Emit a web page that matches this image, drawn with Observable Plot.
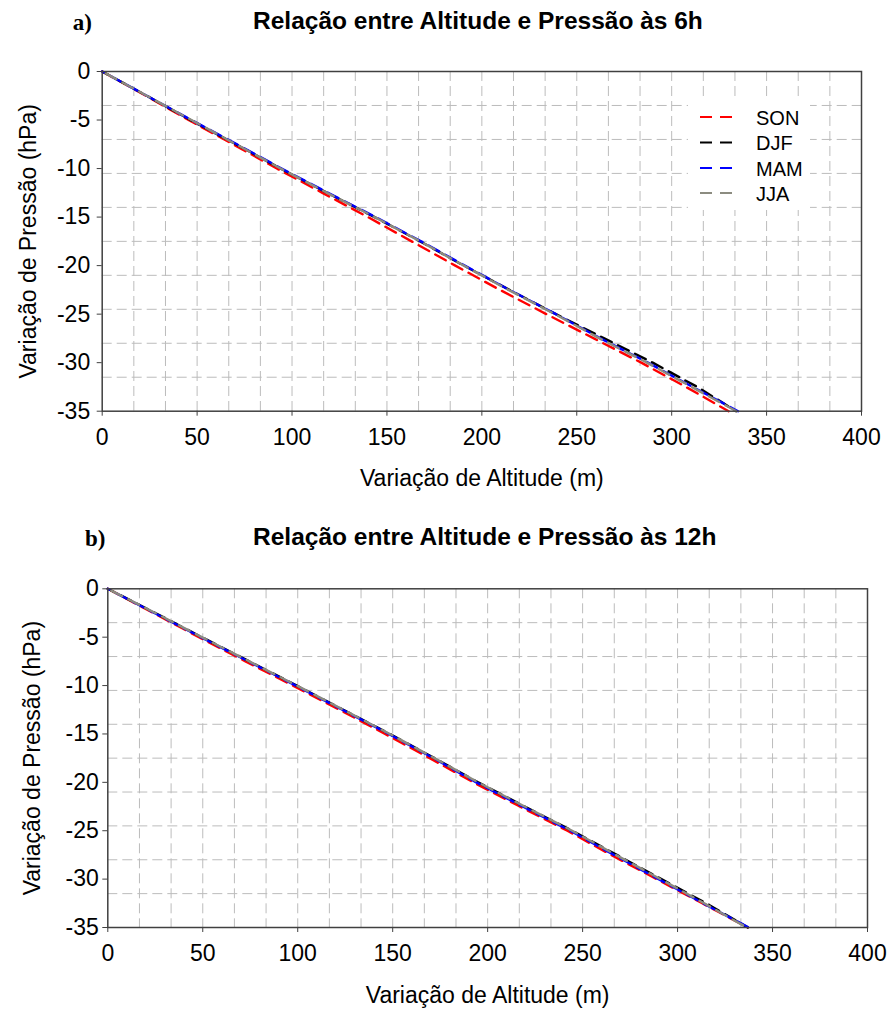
<!DOCTYPE html>
<html>
<head>
<meta charset="utf-8">
<script src="https://cdn.jsdelivr.net/npm/d3@7"></script>
<script src="https://cdn.jsdelivr.net/npm/@observablehq/plot@0.6"></script>
<style>
  body { margin: 0; background: #fff; }
  #wrap { position: relative; width: 890px; height: 1019px; font-family: "Liberation Sans", Arial, sans-serif; color: #000; }
  .panel { position: absolute; left: 0; }
  .plab { position: absolute; font-family: "Liberation Serif", "Times New Roman", serif; font-weight: bold; font-size: 23px; line-height: 23px; white-space: nowrap; }
  .ttl { position: absolute; font-weight: bold; font-size: 24.5px; line-height: 24.5px; white-space: nowrap; }
  .legend { position: absolute; background: #fff; }
</style>
</head>
<body>
<div id="wrap"></div>
<script>
// ---- data ----
const seriesNames = ["SON", "DJF", "MAM", "JJA"];
const seriesColors = ["#ff0000", "#000000", "#0000ff", "#8c8c80"];
const pressureLevels = [0, -2.5, -5, -7.5, -10, -12.5, -15, -17.5, -20, -22.5, -25, -27.5, -30, -32.5, -35];
const xTicks = [0, 50, 100, 150, 200, 250, 300, 350, 400];
const yTicks = [0, -5, -10, -15, -20, -25, -30, -35];

// altitude variation (m) at each pressure level, 6h
const alt6h_SON = [0, 23, 45.5, 69, 92, 116, 140, 163, 186, 209.5, 234, 259, 284, 307.5, 330];
const alt6h_DJF = [0, 23.5, 46.5, 70.5, 94, 118.5, 143.5, 167.5, 190.5, 214.5, 239, 264.5, 290, 313.5, 334];
const alt6h_MAM = [0, 23.5, 47, 71, 94.5, 119, 144, 168, 191, 214.5, 239, 262.5, 287.5, 311, 335];
const alt6h_JJA = [0, 23.5, 47, 70.5, 94, 118.5, 143.5, 167.5, 190.5, 214, 238.5, 262, 287, 310.5, 334];

// altitude variation (m) at each pressure level, 12h
const alt12h_SON = [0, 24, 48, 72.5, 97.5, 122, 146, 169.5, 192.5, 217, 242, 265, 289, 313, 337];
const alt12h_DJF = [0, 25, 49.5, 74.5, 99.5, 124, 148.5, 172, 195, 219.5, 244.5, 268, 291.5, 315, 337];
const alt12h_MAM = [0, 24.5, 49, 74, 99, 123.5, 148, 171.5, 194, 218.5, 243.5, 266.5, 290, 313.5, 337.5];
const alt12h_JJA = [0, 25, 49.5, 74.5, 99.5, 124, 148.5, 172, 195, 219.5, 244.5, 267.5, 291, 314, 336.5];

const xLabel = "Variação de Altitude (m)";
const yLabel = "Variação de Pressão (hPa)";
const titles = ["Relação entre Altitude e Pressão às 6h", "Relação entre Altitude e Pressão às 12h"];
const panelLetters = ["a)", "b)"];

// ---- build ----
function rowsFor(altArrays) {
  const rows = [];
  seriesNames.forEach((s, i) => {
    altArrays[i].forEach((a, j) => rows.push({ season: s, alt: a, p: pressureLevels[j] }));
  });
  return rows;
}

const vGrid = d3.range(1, 24).map(i => i * 400 / 24);
const hGrid = d3.range(1, 10).map(i => -i * 3.5);
const dashOffsets = [0, 5, 10, 15];

function makePanel(rows, cfg) {
  const lineMarks = seriesNames.map((s, i) =>
    Plot.line(rows.filter(r => r.season === s), {
      x: "alt", y: "p", stroke: "season",
      strokeWidth: 2.4, strokeDasharray: "12,7", strokeDashoffset: dashOffsets[i]
    })
  );
  return Plot.plot({
    width: 890,
    height: cfg.height,
    marginLeft: cfg.ml, marginRight: cfg.mr, marginTop: cfg.mt, marginBottom: cfg.mb,
    style: { fontFamily: "'Liberation Sans', Arial, sans-serif", fontSize: "23px", color: "#000", background: "transparent", overflow: "visible" },
    x: { domain: [0, 400] },
    y: { domain: [-35, 0] },
    color: { domain: seriesNames, range: seriesColors },
    marks: [
      Plot.gridX(vGrid, { stroke: "#bcbcbc", strokeOpacity: 1, strokeWidth: 1, strokeDasharray: "10,5" }),
      Plot.gridY(hGrid, { stroke: "#bcbcbc", strokeOpacity: 1, strokeWidth: 1, strokeDasharray: "10,5" }),
      ...lineMarks,
      Plot.frame({ stroke: "#404040", strokeWidth: 1.5 }),
      Plot.axisX(xTicks, { tickSize: 5, tickPadding: 12.5, label: null, tickFormat: d => String(d), stroke: "#404040" }),
      Plot.axisY(yTicks, { tickSize: 5, tickPadding: cfg.ytp, label: null, tickFormat: d => String(d), stroke: "#404040" }),
      Plot.text([xLabel], { frameAnchor: "bottom", dy: 75, fontSize: 23, fill: "#000" }),
      Plot.text([yLabel], { frameAnchor: "left", textAnchor: "middle", rotate: -90, dx: cfg.ydx, fontSize: 23, fill: "#000" })
    ]
  });
}

const wrap = document.getElementById("wrap");

// panel a
const pa = makePanel(rowsFor([alt6h_SON, alt6h_DJF, alt6h_MAM, alt6h_JJA]),
  { height: 505, ml: 101.7, mr: 29, mt: 71, mb: 94.3, ytp: 7, ydx: -73.7 });
pa.classList.add("panel"); pa.style.top = "0px";
wrap.appendChild(pa);

// panel b
const pb = makePanel(rowsFor([alt12h_SON, alt12h_DJF, alt12h_MAM, alt12h_JJA]),
  { height: 504, ml: 107.3, mr: 23, mt: 73.3, mb: 92, ytp: 4, ydx: -75.3 });
pb.classList.add("panel"); pb.style.top = "515px";
wrap.appendChild(pb);

// titles and panel letters
[[72.7, 10.7, 253, 9.3], [85, 526.7, 253, 525.3]].forEach(([lx, ly, tx, ty], i) => {
  const l = document.createElement("div");
  l.className = "plab"; l.style.left = lx + "px"; l.style.top = ly + "px";
  l.textContent = panelLetters[i];
  wrap.appendChild(l);
  const t = document.createElement("div");
  t.className = "ttl"; t.style.left = tx + "px"; t.style.top = ty + "px";
  t.textContent = titles[i];
  wrap.appendChild(t);
});

// legend (panel a)
const leg = document.createElement("div");
leg.className = "legend";
leg.style.left = "688px"; leg.style.top = "100px";
leg.style.width = "122px"; leg.style.height = "110px";
const ns = "http://www.w3.org/2000/svg";
const lsvg = document.createElementNS(ns, "svg");
lsvg.setAttribute("width", 122); lsvg.setAttribute("height", 110);
const rowY = [17, 42.5, 68, 93];
seriesNames.forEach((s, i) => {
  const ln = document.createElementNS(ns, "line");
  ln.setAttribute("x1", 12); ln.setAttribute("x2", 44);
  ln.setAttribute("y1", rowY[i]); ln.setAttribute("y2", rowY[i]);
  ln.setAttribute("stroke", seriesColors[i]);
  ln.setAttribute("stroke-width", 2.2);
  ln.setAttribute("stroke-dasharray", "12,8");
  lsvg.appendChild(ln);
  const tx = document.createElementNS(ns, "text");
  tx.setAttribute("x", 68); tx.setAttribute("y", rowY[i] + 7.5);
  tx.setAttribute("font-size", 20);
  tx.setAttribute("font-family", "'Liberation Sans', Arial, sans-serif");
  tx.setAttribute("fill", "#000");
  tx.textContent = s;
  lsvg.appendChild(tx);
});
leg.appendChild(lsvg);
wrap.appendChild(leg);
</script>
</body>
</html>
